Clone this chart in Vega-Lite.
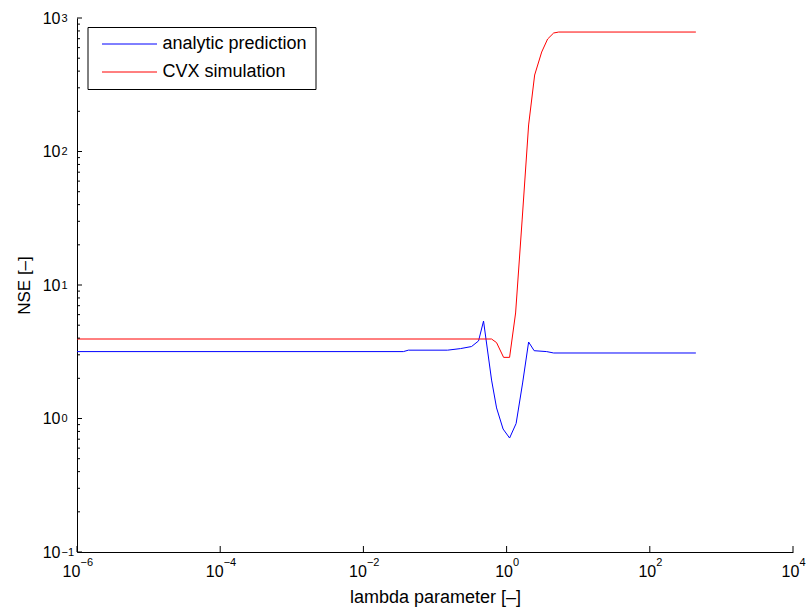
{
  "$schema": "https://vega.github.io/schema/vega-lite/v6.json",
  "width": 716,
  "height": 534,
  "autosize": "none",
  "padding": {"left": 77, "top": 18, "right": 13, "bottom": 58},
  "background": "white",
  "config": {
    "font": "Liberation Sans",
    "view": {"stroke": null},
    "axis": {
      "grid": false,
      "domainColor": "black",
      "labelColor": "black",
      "titleColor": "black",
      "labelFont": "Liberation Sans",
      "titleFont": "Liberation Sans",
      "titleFontWeight": "normal",
      "labelOverlap": false,
      "labelFlush": false,
      "labelBound": false
    }
  },
  "datasets": {
    "xticks": [
      {"v": 0.000001}, {"v": 0.0001}, {"v": 0.01}, {"v": 1}, {"v": 100}, {"v": 10000}
    ],
    "yticks": [
      {"v": 0.1, "kind": "major"}, {"v": 0.2, "kind": "minor"}, {"v": 0.3, "kind": "minor"}, {"v": 0.4, "kind": "minor"}, {"v": 0.5, "kind": "minor"}, {"v": 0.6, "kind": "minor"}, {"v": 0.7, "kind": "minor"}, {"v": 0.8, "kind": "minor"}, {"v": 0.9, "kind": "minor"},
      {"v": 1, "kind": "major"}, {"v": 2, "kind": "minor"}, {"v": 3, "kind": "minor"}, {"v": 4, "kind": "minor"}, {"v": 5, "kind": "minor"}, {"v": 6, "kind": "minor"}, {"v": 7, "kind": "minor"}, {"v": 8, "kind": "minor"}, {"v": 9, "kind": "minor"},
      {"v": 10, "kind": "major"}, {"v": 20, "kind": "minor"}, {"v": 30, "kind": "minor"}, {"v": 40, "kind": "minor"}, {"v": 50, "kind": "minor"}, {"v": 60, "kind": "minor"}, {"v": 70, "kind": "minor"}, {"v": 80, "kind": "minor"}, {"v": 90, "kind": "minor"},
      {"v": 100, "kind": "major"}, {"v": 200, "kind": "minor"}, {"v": 300, "kind": "minor"}, {"v": 400, "kind": "minor"}, {"v": 500, "kind": "minor"}, {"v": 600, "kind": "minor"}, {"v": 700, "kind": "minor"}, {"v": 800, "kind": "minor"}, {"v": 900, "kind": "minor"},
      {"v": 1000, "kind": "major"}
    ]
  },
  "data": {
    "values": [
      {"series": "analytic prediction", "lambda": 0.000001, "nse": 3.17},
      {"series": "analytic prediction", "lambda": 0.0362, "nse": 3.17},
      {"series": "analytic prediction", "lambda": 0.0425, "nse": 3.25},
      {"series": "analytic prediction", "lambda": 0.1496, "nse": 3.25},
      {"series": "analytic prediction", "lambda": 0.2275, "nse": 3.34},
      {"series": "analytic prediction", "lambda": 0.3236, "nse": 3.46},
      {"series": "analytic prediction", "lambda": 0.4055, "nse": 3.81},
      {"series": "analytic prediction", "lambda": 0.4764, "nse": 5.37},
      {"series": "analytic prediction", "lambda": 0.6166, "nse": 1.94},
      {"series": "analytic prediction", "lambda": 0.7244, "nse": 1.2},
      {"series": "analytic prediction", "lambda": 0.893, "nse": 0.834},
      {"series": "analytic prediction", "lambda": 1.101, "nse": 0.714},
      {"series": "analytic prediction", "lambda": 1.358, "nse": 0.917},
      {"series": "analytic prediction", "lambda": 1.674, "nse": 1.845},
      {"series": "analytic prediction", "lambda": 2.03, "nse": 3.74},
      {"series": "analytic prediction", "lambda": 2.425, "nse": 3.22},
      {"series": "analytic prediction", "lambda": 3.63, "nse": 3.17},
      {"series": "analytic prediction", "lambda": 4.54, "nse": 3.095},
      {"series": "analytic prediction", "lambda": 440, "nse": 3.095},
      {"series": "CVX simulation", "lambda": 0.000001, "nse": 3.94},
      {"series": "CVX simulation", "lambda": 0.6166, "nse": 3.94},
      {"series": "CVX simulation", "lambda": 0.7244, "nse": 3.7},
      {"series": "CVX simulation", "lambda": 0.908, "nse": 2.87},
      {"series": "CVX simulation", "lambda": 1.101, "nse": 2.87},
      {"series": "CVX simulation", "lambda": 1.336, "nse": 6.17},
      {"series": "CVX simulation", "lambda": 1.648, "nse": 30.7},
      {"series": "CVX simulation", "lambda": 2.03, "nse": 158},
      {"series": "CVX simulation", "lambda": 2.465, "nse": 374},
      {"series": "CVX simulation", "lambda": 3.09, "nse": 556},
      {"series": "CVX simulation", "lambda": 3.74, "nse": 696},
      {"series": "CVX simulation", "lambda": 4.54, "nse": 772},
      {"series": "CVX simulation", "lambda": 5.34, "nse": 785},
      {"series": "CVX simulation", "lambda": 440, "nse": 785}
    ]
  },
  "layer": [
    {
      "mark": {"type": "line", "strokeWidth": 1},
      "encoding": {
        "x": {
          "field": "lambda", "type": "quantitative",
          "scale": {"type": "log", "domain": [0.000001, 10000], "nice": false},
          "axis": {
            "orient": "bottom",
            "values": [0.000001, 0.0001, 0.01, 1, 100, 10000],
            "labelExpr": "'10'",
            "labelFontSize": 16,
            "labelAlign": "center",
            "labelOffset": {"condition": {"test": "datum.value < 0.5", "value": -6}, "value": -3},
            "ticks": false,
            "labelPadding": 11,
            "domainWidth": 1,
            "title": "lambda parameter [–]",
            "titleFontSize": 18,
            "titlePadding": 9
          }
        },
        "y": {
          "field": "nse", "type": "quantitative",
          "scale": {"type": "log", "domain": [0.1, 1000], "nice": false},
          "axis": {
            "orient": "left",
            "values": [0.1, 1, 10, 100, 1000],
            "labelExpr": "'10'",
            "labelFontSize": 16,
            "labelAlign": "right",
            "labelBaseline": "middle",
            "ticks": false,
            "labelPadding": 17,
            "domainWidth": 1,
            "title": "NSE [–]",
            "titleFontSize": 17,
            "titlePadding": 9
          }
        },
        "color": {
          "field": "series", "type": "nominal",
          "scale": {"domain": ["analytic prediction", "CVX simulation"], "range": ["#0000ff", "#ff0000"]},
          "legend": {
            "orient": "none",
            "legendX": 10.5,
            "legendY": 9,
            "title": null,
            "strokeColor": "black",
            "fillColor": "white",
            "padding": 8,
            "symbolType": "M-5.5,0H5.5",
            "symbolSize": 100,
            "symbolStrokeWidth": 1,
            "symbolOffset": 25,
            "labelFontSize": 18,
            "labelFont": "Liberation Sans",
            "labelColor": "black",
            "labelOffset": 24,
            "rowPadding": 10
          }
        }
      }
    },
    {
      "mark": {"type": "line", "opacity": 0},
      "encoding": {
        "x": {
          "field": "lambda", "type": "quantitative",
          "axis": {
            "orient": "bottom",
            "values": [0.000001, 0.0001, 0.01, 1, 100, 10000],
            "labelExpr": "format(round(log(datum.value)/LN10), 'd')",
            "labelFontSize": 11,
            "labelAlign": "left",
            "labelOffset": {"condition": {"test": "datum.value < 0.5", "value": 3}, "value": 6},
            "ticks": false,
            "domain": false,
            "labelPadding": 4,
            "title": null
          }
        },
        "y": {
          "field": "nse", "type": "quantitative",
          "axis": {
            "orient": "left",
            "values": [0.1, 1, 10, 100, 1000],
            "labelExpr": "format(round(log(datum.value)/LN10), 'd')",
            "labelFontSize": 11,
            "labelAlign": "left",
            "labelBaseline": "middle",
            "labelDy": -9,
            "ticks": false,
            "domain": false,
            "labelPadding": 16,
            "title": null
          }
        },
        "detail": {"field": "series"}
      }
    },
    {
      "data": {"name": "xticks"},
      "mark": {"type": "tick", "orient": "vertical", "size": 6, "thickness": 1, "yOffset": -3, "color": "black", "opacity": 1},
      "encoding": {
        "x": {"field": "v", "type": "quantitative", "axis": null},
        "y": {"datum": 0.1, "type": "quantitative", "axis": null}
      }
    },
    {
      "data": {"name": "yticks"},
      "transform": [{"filter": "datum.kind == 'major'"}],
      "mark": {"type": "tick", "orient": "horizontal", "size": 5, "thickness": 1, "xOffset": 2.5, "color": "black", "opacity": 1},
      "encoding": {
        "x": {"datum": 0.000001, "type": "quantitative", "axis": null},
        "y": {"field": "v", "type": "quantitative", "axis": null}
      }
    },
    {
      "data": {"name": "yticks"},
      "transform": [{"filter": "datum.kind == 'minor'"}],
      "mark": {"type": "tick", "orient": "horizontal", "size": 3, "thickness": 1, "xOffset": 1.5, "color": "black", "opacity": 1},
      "encoding": {
        "x": {"datum": 0.000001, "type": "quantitative", "axis": null},
        "y": {"field": "v", "type": "quantitative", "axis": null}
      }
    }
  ],
  "resolve": {"axis": {"x": "independent", "y": "independent"}}
}
